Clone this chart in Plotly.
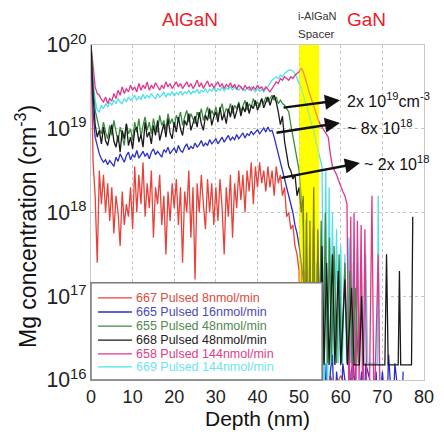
import plotly.graph_objects as go

# ---------------- data (Mg concentration as log10 of cm^-3) ----------------
depth_main = [0.0, 0.5, 1.0, 1.5, 2.0, 2.5, 3.0, 3.5, 4.0, 4.5,
              5.0, 5.5, 6.0, 6.5, 7.0, 7.5, 8.0, 8.5, 9.0, 9.5,
              10.0, 10.5, 11.0, 11.5, 12.0, 12.5, 13.0, 13.5, 14.0, 14.5,
              15.0, 15.5, 16.0, 16.5, 17.0, 17.5, 18.0, 18.5, 19.0, 19.5,
              20.0, 20.5, 21.0, 21.5, 22.0, 22.5, 23.0, 23.5, 24.0, 24.5,
              25.0, 25.5, 26.0, 26.5, 27.0, 27.5, 28.0, 28.5, 29.0, 29.5,
              30.0, 30.5, 31.0, 31.5, 32.0, 32.5, 33.0, 33.5, 34.0, 34.5,
              35.0, 35.5, 36.0, 36.5, 37.0, 37.5, 38.0, 38.5, 39.0, 39.5,
              40.0, 40.5, 41.0, 41.5, 42.0, 42.5, 43.0, 43.5, 44.0, 44.5,
              45.0, 45.5, 46.0, 46.5, 47.0, 47.5, 48.0, 48.5, 49.0, 49.5,
              50.0]

# 667 Pulsed 8nmol/min
red_main = [20.0, 18.6, 18.2, 17.4, 18.5, 18.1, 18.45, 18.0, 18.35, 17.9,
            18.3, 17.75, 18.2, 18.0, 17.6, 18.25, 17.85, 18.1, 17.95, 18.3,
            17.8, 18.55, 18.0, 18.45, 18.1, 18.6, 17.95, 18.35, 18.05, 18.5,
            17.7, 18.3, 18.1, 18.45, 17.85, 18.2, 17.5, 18.25, 17.9, 18.35,
            18.05, 18.4, 17.85, 18.3, 17.4, 18.25, 18.0, 18.5, 17.7, 18.3,
            17.2, 18.35, 18.0, 18.45, 18.1, 17.8, 18.4, 18.0, 18.35, 17.85,
            18.3, 17.9, 18.4, 18.05, 17.5, 18.3, 17.95, 18.45, 17.7, 18.35,
            18.05, 18.5, 18.15, 18.45, 18.0, 18.5, 18.25, 18.6, 18.1, 18.55,
            18.3, 18.6, 18.35, 18.5, 18.25, 18.55, 18.3, 18.5, 18.2, 18.55,
            18.35, 18.45, 18.2, 18.3, 17.95, 18.0, 17.8, 17.85, 17.6, 17.5,
            17.3]
red_tail_depth = [50.3, 50.6, 50.9, 51.2, 51.5, 51.8, 52.1, 52.4, 52.7, 53.0,
                  53.3, 53.6, 53.9, 54.2, 54.5, 54.9, 55.3, 55.8, 56.4, 57.5,
                  58.5, 60.0, 61.5, 63.0, 64.5, 66.0]
red_tail = [15.5, 17.4, 15.5, 17.3, 15.5, 17.2, 15.5, 17.1, 15.5, 17.0,
            15.5, 16.9, 15.5, 16.8, 15.5, 16.6, 15.5, 16.4, 15.5, 16.05,
            15.9, 16.05, 15.9, 16.05, 15.9, 16.0]

# 665 Pulsed 16nmol/min
blue_main = [20.0, 19.2, 18.9, 18.8, 18.7, 18.64, 18.6, 18.63, 18.57, 18.62,
             18.58, 18.55, 18.66, 18.61, 18.7, 18.64, 18.6, 18.68, 18.72, 18.63,
             18.69, 18.66, 18.74, 18.65, 18.7, 18.73, 18.67, 18.71, 18.64, 18.72,
             18.76, 18.69, 18.73, 18.7, 18.66, 18.75, 18.72, 18.78, 18.7, 18.74,
             18.77, 18.71, 18.8, 18.74, 18.72, 18.78, 18.82, 18.75, 18.79, 18.76,
             18.83, 18.78, 18.81, 18.86, 18.79, 18.83, 18.8, 18.87, 18.82, 18.85,
             18.88, 18.82, 18.86, 18.9, 18.84, 18.88, 18.92, 18.86, 18.9, 18.87,
             18.93, 18.88, 18.91, 18.95, 18.89, 18.94, 18.92, 18.97, 18.93, 18.96,
             18.99, 18.94, 18.98, 19.01, 18.96, 19.02, 18.97, 18.98, 18.9, 18.8,
             18.7, 18.6, 18.5, 18.4, 18.3, 18.2, 18.1, 18.0, 17.85, 17.75,
             17.6]
blue_tail_depth = [50.5, 51.0, 51.5, 52.0, 52.5, 53.0, 53.5, 54.0, 54.5, 55.0,
                   55.5, 56.0, 56.5, 57.0, 57.5, 58.0, 58.5, 59.0, 60.0, 60.5,
                   61.0, 62.0, 62.5, 63.0, 64.0, 65.0, 65.5, 66.0, 67.0, 68.0,
                   68.5, 69.0, 70.0, 71.0, 71.5, 72.5, 73.0, 74.5, 75.0]
blue_tail = [17.4, 17.2, 17.0, 16.8, 16.5, 16.3, 15.5, 16.4, 15.5, 16.3,
             16.0, 15.5, 16.2, 15.5, 16.1, 16.3, 15.5, 16.1, 15.5, 16.2,
             16.0, 15.5, 16.1, 16.2, 15.5, 16.1, 15.5, 16.2, 16.0, 15.5,
             16.1, 15.5, 16.1, 15.5, 16.3, 15.5, 16.2, 15.5, 16.1]

# 655 Pulsed 48nmol/min
green_main = [20.0, 19.5, 19.22, 19.12, 19.0, 18.94, 19.08, 18.96, 18.88, 19.04,
              18.92, 19.1, 18.98, 18.84, 19.02, 18.9, 18.8, 19.06, 18.94, 19.0,
              18.86, 19.08, 18.96, 19.12, 18.9, 19.04, 19.14, 18.98, 19.08, 18.94,
              19.12, 19.0, 18.96, 19.16, 19.04, 19.1, 18.98, 19.18, 19.06, 19.12,
              19.02, 19.16, 19.1, 19.2, 19.04, 19.14, 19.22, 19.08, 19.18, 19.12,
              19.06, 19.2, 19.14, 19.24, 19.1, 19.18, 19.26, 19.12, 19.22, 19.16,
              19.26, 19.14, 19.22, 19.3, 19.16, 19.24, 19.2, 19.3, 19.18, 19.28,
              19.24, 19.32, 19.2, 19.28, 19.34, 19.22, 19.3, 19.26, 19.36, 19.28,
              19.32, 19.26, 19.36, 19.3, 19.38, 19.32, 19.36, 19.4, 19.34, 19.38,
              19.3, 19.34, 19.3, 19.28, 19.24, 19.2, 19.05, 18.9, 18.75, 18.6,
              18.5]
green_tail_depth = [50.5, 51.0, 51.3, 51.7, 52.1, 52.5, 52.9, 53.4, 53.8, 54.3,
                    54.8, 55.3, 55.8, 56.3, 56.8, 57.3, 57.8, 58.4, 59.0, 59.6,
                    60.2, 61.0, 61.6, 62.2, 62.8, 63.5, 64.2]
green_tail = [18.2, 17.8, 15.5, 17.9, 15.5, 17.6, 15.5, 17.8, 15.5, 17.4,
              16.2, 17.9, 16.2, 18.0, 16.2, 17.7, 16.2, 17.6, 16.2, 17.5,
              16.2, 17.4, 16.2, 17.3, 16.2, 17.1, 16.2]

# 668 Pulsed 48nmol/min
black_main = [20.0, 19.4, 19.05, 18.9, 18.98, 18.82, 19.02, 18.86, 18.8, 18.95,
              19.05, 18.85, 18.78, 18.92, 18.72, 18.98, 18.88, 19.06, 18.8, 18.9,
              18.76, 18.98, 19.02, 18.84, 18.93, 18.78, 19.08, 18.9, 18.96, 18.82,
              19.04, 18.92, 19.1, 18.86, 18.98, 19.06, 18.9, 19.12, 18.95, 18.88,
              19.08, 18.96, 19.14, 19.0, 18.92, 19.1, 19.04, 19.18, 18.98, 19.06,
              19.15, 19.02, 19.2, 19.06, 18.98, 19.16, 19.1, 19.24, 19.04, 19.14,
              19.2, 19.08, 19.26, 19.1, 19.18, 19.06, 19.24, 19.14, 19.28, 19.12,
              19.22, 19.3, 19.15, 19.26, 19.2, 19.32, 19.18, 19.28, 19.24, 19.34,
              19.22, 19.3, 19.36, 19.25, 19.32, 19.38, 19.28, 19.36, 19.4, 19.32,
              19.2, 19.05, 19.15, 18.85, 18.7, 18.55, 18.5, 18.4, 18.45, 18.2,
              18.3]
black_tail_depth = [50.5, 51.0, 51.4, 51.8, 52.2, 52.6, 53.0, 53.5, 54.0, 54.5,
                    55.0, 55.5, 56.0, 56.6, 57.2, 58.0, 58.6, 59.4, 60.0, 61.0,
                    61.6, 62.6, 63.2, 64.5, 65.0, 65.5, 70.6, 71.0, 71.4, 73.8,
                    74.1, 74.4, 77.0, 77.3]
black_tail = [18.0, 18.2, 15.5, 18.0, 15.5, 17.9, 15.5, 18.3, 15.8, 17.8,
              16.18, 17.6, 16.18, 17.4, 16.18, 17.5, 16.18, 17.3, 16.18, 17.2,
              16.18, 17.1, 16.18, 16.18, 17.0, 16.18, 16.18, 17.5, 16.18, 16.18,
              17.3, 16.18, 16.18, 17.95]

# 658 Pulsed 144nmol/min
magenta_main = [20.0, 19.7, 19.5, 19.42, 19.4, 19.35, 19.32, 19.38, 19.3, 19.36,
                19.33, 19.42, 19.36, 19.46, 19.4, 19.5, 19.42, 19.48, 19.44, 19.52,
                19.46, 19.5, 19.44, 19.54, 19.46, 19.52, 19.48, 19.56, 19.46, 19.52,
                19.48, 19.55, 19.5, 19.46, 19.52, 19.48, 19.56, 19.5, 19.54, 19.48,
                19.52, 19.56, 19.5, 19.54, 19.48, 19.52, 19.56, 19.5, 19.54, 19.48,
                19.52, 19.58, 19.5, 19.55, 19.48, 19.53, 19.57, 19.5, 19.54, 19.49,
                19.52, 19.56, 19.5, 19.54, 19.48, 19.53, 19.5, 19.55, 19.49, 19.53,
                19.47, 19.52, 19.5, 19.46, 19.52, 19.48, 19.5, 19.46, 19.5, 19.47,
                19.52, 19.48, 19.5, 19.46, 19.5, 19.47, 19.44, 19.48, 19.52, 19.56,
                19.54, 19.6, 19.58, 19.62, 19.6, 19.58, 19.62, 19.6, 19.64, 19.66,
                19.68]
magenta_tail_depth = [50.5, 51.0, 51.5, 52.0, 52.5, 53.0, 53.5, 54.0, 54.5, 55.0,
                      55.5, 56.0, 56.5, 57.0, 57.5, 58.0, 58.5, 59.0, 59.5, 60.0,
                      60.5, 61.0, 61.5, 62.0, 62.4, 62.8, 63.2, 63.6, 64.0, 64.4,
                      64.9, 65.3, 65.8, 66.2, 66.8, 67.5, 68.0, 69.0, 69.5, 70.0]
magenta_tail = [19.72, 19.68, 19.6, 19.5, 19.42, 19.35, 19.27, 19.2, 19.12, 19.06,
                19.02, 18.98, 18.95, 18.9, 18.7, 18.55, 18.5, 18.45, 18.38, 18.3,
                18.25, 18.2, 18.1, 15.5, 17.95, 15.5, 18.0, 15.5, 17.9, 16.0,
                17.85, 15.5, 17.8, 16.0, 15.5, 18.2, 15.5, 17.5, 15.5, 16.0]

# 669 Pulsed 144nmol/min
cyan_main = [20.0, 19.6, 19.35, 19.22, 19.2, 19.28, 19.24, 19.3, 19.26, 19.32,
             19.28, 19.34, 19.3, 19.36, 19.32, 19.3, 19.36, 19.32, 19.38, 19.34,
             19.36, 19.4, 19.34, 19.38, 19.35, 19.41, 19.36, 19.4, 19.37, 19.42,
             19.38, 19.36, 19.42, 19.38, 19.4, 19.44, 19.38, 19.42, 19.4, 19.44,
             19.39, 19.43, 19.41, 19.45, 19.4, 19.44, 19.42, 19.46, 19.41, 19.45,
             19.43, 19.47, 19.42, 19.46, 19.44, 19.48, 19.43, 19.47, 19.45, 19.49,
             19.44, 19.48, 19.46, 19.5, 19.45, 19.49, 19.47, 19.51, 19.46, 19.5,
             19.48, 19.46, 19.5, 19.47, 19.45, 19.49, 19.46, 19.5, 19.47, 19.44,
             19.48, 19.45, 19.47, 19.44, 19.48, 19.5, 19.54, 19.58, 19.6, 19.62,
             19.6, 19.64, 19.62, 19.66, 19.68, 19.7, 19.7, 19.69, 19.66, 19.6,
             19.55]
cyan_tail_depth = [50.5, 51.0, 51.5, 52.0, 52.5, 53.0, 53.5, 54.0, 54.5, 55.0,
                   55.5, 56.0, 56.4, 56.8, 57.2, 57.6, 58.0, 58.4, 59.0, 59.4,
                   60.0, 60.4, 61.0, 61.4, 62.0, 62.4, 63.0, 63.4, 64.0, 64.4,
                   65.0, 65.5, 66.0, 66.5, 68.8, 69.0, 69.3]
cyan_tail = [19.48, 19.4, 19.32, 19.25, 19.15, 19.05, 18.98, 18.85, 18.75, 18.65,
             18.55, 15.5, 18.5, 15.5, 18.3, 16.2, 18.0, 16.2, 17.8, 16.2,
             17.6, 16.2, 17.5, 16.2, 17.7, 16.2, 17.4, 16.2, 17.6, 16.2,
             17.3, 16.2, 17.5, 16.2, 16.2, 18.2, 16.0]

series_names = ["667 Pulsed 8nmol/min", "665 Pulsed 16nmol/min", "655 Pulsed 48nmol/min",
                "668 Pulsed 48nmol/min", "658 Pulsed 144nmol/min", "669 Pulsed 144nmol/min"]
series_colors = ["#e8413a", "#2b2fc8", "#3b8a3f", "#1a1a1a", "#e0368c", "#4fe0ec"]
series_text_colors = ["#e04a40", "#4a4ab8", "#4f8a4f", "#222222", "#e0408a", "#6fe3ee"]
series_main = [red_main, blue_main, green_main, black_main, magenta_main, cyan_main]
series_tail_x = [red_tail_depth, blue_tail_depth, green_tail_depth, black_tail_depth,
                 magenta_tail_depth, cyan_tail_depth]
series_tail_y = [red_tail, blue_tail, green_tail, black_tail, magenta_tail, cyan_tail]

x_ticks = [0, 10, 20, 30, 40, 50, 60, 70, 80]

# ---------------- figure ----------------
FONT = "Liberation Sans, Arial, Helvetica, sans-serif"
fig = go.Figure()

draw_order = [0, 1, 5, 4, 2, 3]
for i in draw_order:
    xs = depth_main + series_tail_x[i]
    ys = [10 ** v for v in series_main[i] + series_tail_y[i]]
    fig.add_trace(go.Scatter(x=xs, y=ys, mode="lines", name=series_names[i],
                             line=dict(color=series_colors[i], width=1.3),
                             showlegend=False))

# i-AlGaN spacer band (yellow): one under, one translucent over the lines
for layer, op in (("below", 1.0), ("above", 0.45)):
    fig.add_shape(type="rect", xref="x", yref="paper", x0=50, x1=54.8, y0=0, y1=1,
                  fillcolor="#ffff00", opacity=op, line_width=0, layer=layer)

# custom legend box
LX0, LX1, LY0, LY1 = 0.0, 0.694, 0.0, 0.29
fig.add_shape(type="rect", xref="paper", yref="paper", x0=LX0, x1=LX1, y0=LY0, y1=LY1,
              fillcolor="white", line=dict(color="#7a7a7a", width=1.5), layer="above")
row_y = [0.245, 0.203, 0.161, 0.119, 0.078, 0.039]
for i in range(6):
    fig.add_shape(type="line", xref="paper", yref="paper", x0=0.021, x1=0.123,
                  y0=row_y[i], y1=row_y[i], line=dict(color=series_colors[i], width=1.3),
                  layer="above")
    fig.add_annotation(xref="paper", yref="paper", x=0.129, y=row_y[i], xanchor="left",
                       yanchor="middle", showarrow=False, text=series_names[i],
                       font=dict(family=FONT, size=12.5, color=series_text_colors[i]))

# region labels
fig.add_annotation(xref="paper", yref="paper", x=0.297, y=1.075, text="AlGaN",
                   xanchor="center", yanchor="middle", showarrow=False,
                   font=dict(family=FONT, size=19, color="#e8202a"))
fig.add_annotation(xref="paper", yref="paper", x=0.826, y=1.075, text="GaN",
                   xanchor="center", yanchor="middle", showarrow=False,
                   font=dict(family=FONT, size=19, color="#e8202a"))
fig.add_annotation(xref="paper", yref="paper", x=0.616, y=1.087, text="i-AlGaN",
                   xanchor="left", yanchor="middle", showarrow=False,
                   font=dict(family=FONT, size=11, color="#333"))
fig.add_annotation(xref="paper", yref="paper", x=0.616, y=1.034, text="Spacer",
                   xanchor="left", yanchor="middle", showarrow=False,
                   font=dict(family=FONT, size=11.5, color="#333"))

# y-axis title
fig.add_annotation(xref="paper", yref="paper", x=-0.195, y=0.457, textangle=-90,
                   text="Mg concentration (cm<sup>-3</sup>)", showarrow=False,
                   xanchor="center", yanchor="middle",
                   font=dict(family=FONT, size=23, color="#111"))

# arrows (x in nm, y in log10 units)
arrows = [((59.8, 19.34), (45.9, 19.25)),
          ((59.8, 19.07), (44.2, 18.95)),
          ((64.6, 18.59), (45.4, 18.41))]
for (hx, hy), (tx, ty) in arrows:
    fig.add_annotation(x=hx, y=hy, ax=tx, ay=ty, xref="x", yref="y", axref="x", ayref="y",
                       text="", showarrow=True, arrowhead=2, arrowsize=1.2,
                       arrowwidth=2.5, arrowcolor="#111")
labels = [(0.763, 0.836, "2x 10<sup>19</sup>cm<sup>-3</sup>"),
          (0.763, 0.755, "~ 8x 10<sup>18</sup>"),
          (0.814, 0.648, "~ 2x 10<sup>18</sup>")]
for lx, ly, t in labels:
    fig.add_annotation(xref="paper", yref="paper", x=lx, y=ly, text=t, xanchor="left",
                       yanchor="middle", showarrow=False,
                       font=dict(family=FONT, size=16, color="#111"))

# the page has an 8 px body margin, so the figure is 16 px smaller than the window
fig.update_layout(
    width=428, height=423,
    margin=dict(l=83, r=12, t=37, b=51),
    paper_bgcolor="white", plot_bgcolor="white",
    font=dict(family=FONT, color="#222"),
)
fig.update_xaxes(range=[0, 80], tickvals=x_ticks, ticktext=[str(t) for t in x_ticks],
                 automargin=False,
                 showgrid=True, gridcolor="#c4c4c4", griddash="dot", gridwidth=1,
                 showline=True, linecolor="#c8c8c8", mirror=True, zeroline=False,
                 ticks="", tickfont=dict(size=18, color="#222"),
                 title=dict(text="Depth (nm)", font=dict(size=21, color="#111"), standoff=2))
fig.update_yaxes(type="log", range=[16, 20], dtick=1, exponentformat="power",
                 automargin=False,
                 showgrid=True, gridcolor="#c4c4c4", griddash="dot", gridwidth=1,
                 showline=True, linecolor="#c8c8c8", mirror=True, zeroline=False,
                 ticks="", tickfont=dict(size=17, color="#222"))

fig.write_html("out.html")
